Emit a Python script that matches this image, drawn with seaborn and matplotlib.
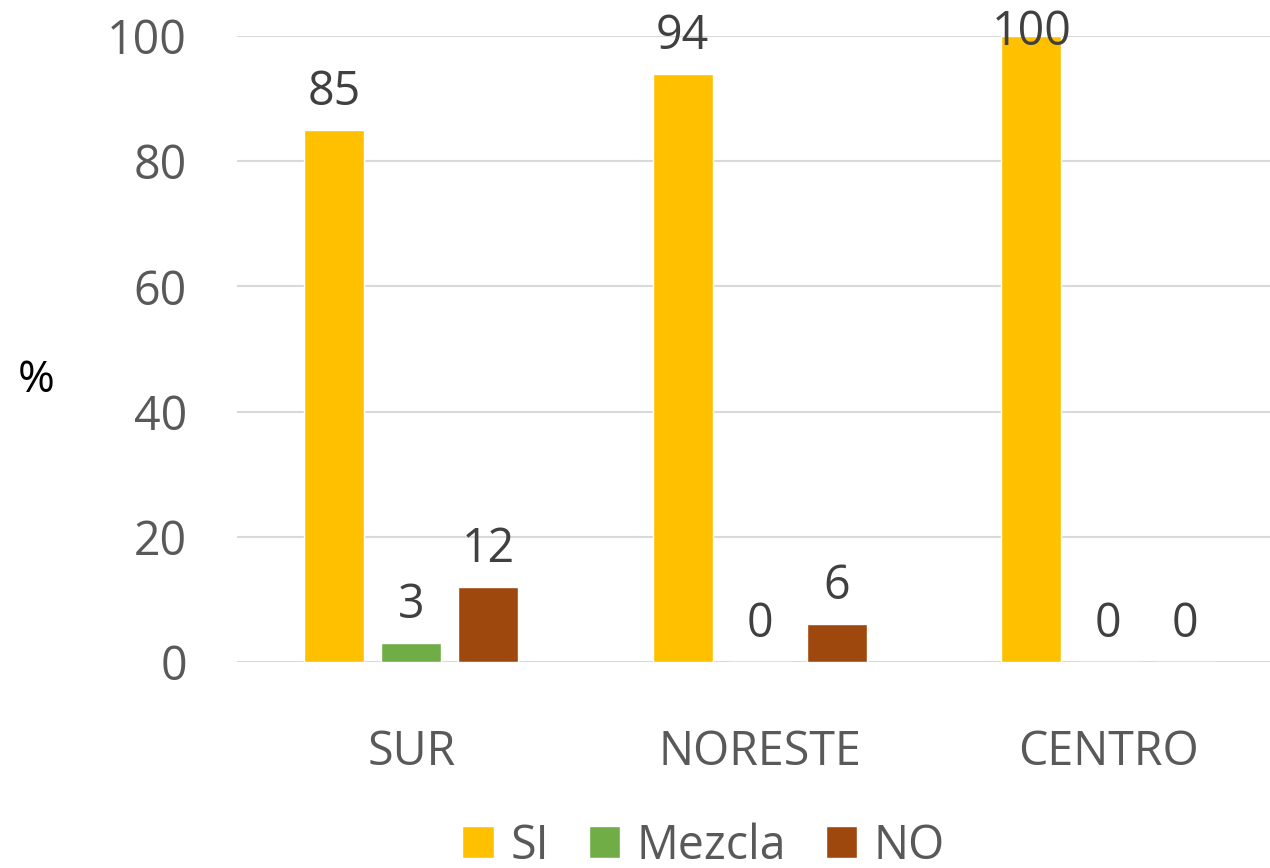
import pandas as pd
import matplotlib.pyplot as plt
import seaborn as sns

regions = ["SUR", "NORESTE", "CENTRO"]
answers = ["SI", "Mezcla", "NO"]
si_vals = [85, 94, 100]
mezcla_vals = [3, 0, 0]
no_vals = [12, 6, 0]
colors = ["#FFC000", "#70AD47", "#9E480E"]

df = pd.DataFrame({
    "region": regions * 3,
    "respuesta": ["SI"] * 3 + ["Mezcla"] * 3 + ["NO"] * 3,
    "valor": si_vals + mezcla_vals + no_vals,
})

sns.set_style("white")
plt.rcParams["font.family"] = ["Open Sans", "DejaVu Sans"]

fig = plt.figure(figsize=(12.7, 8.68), dpi=100)
ax = fig.add_axes([237 / 1270, 1 - 662 / 868, 1 - 237 / 1270, (662 - 36) / 868])

sns.barplot(data=df, x="region", y="valor", hue="respuesta", order=regions,
            hue_order=answers, palette=colors, width=0.663, gap=0.22,
            saturation=1, ax=ax, legend=True)

ax.set_ylim(0, 100)
ax.set_xlim(-0.5, -0.5 + 1033 / 348.5)
ax.set_yticks(range(0, 101, 20))
ax.yaxis.grid(True, color="#D9D9D9", linewidth=1.5)
ax.set_axisbelow(True)
for s in ax.spines.values():
    s.set_visible(False)
ax.tick_params(axis="both", length=0, labelsize=33.5, labelcolor="#595959")
ax.tick_params(axis="y", pad=36)
ax.tick_params(axis="x", pad=48)
ax.set_xlabel("")
ax.set_ylabel("")

# data labels
for cont in ax.containers:
    for bar in cont:
        v = bar.get_height()
        x = bar.get_x() + bar.get_width() / 2
        ax.text(x, min(v + 4, 98.5), f"{v:.0f}", ha="center", va="baseline",
                fontsize=33.5, color="#404040", clip_on=False)

fig.text(18 / 1270, 1 - 381 / 868, "%", fontsize=32, color="black", va="center")

handles, labels = ax.get_legend_handles_labels()
ax.get_legend().remove()
fig.legend(handles, labels, loc="center", bbox_to_anchor=(0.554, 1 - 846 / 868),
           ncol=3, frameon=False, fontsize=33.5, labelcolor="#595959",
           handlelength=0.68, handleheight=0.68, handletextpad=0.35,
           columnspacing=0.85)

fig.savefig("out.png", dpi=100)
